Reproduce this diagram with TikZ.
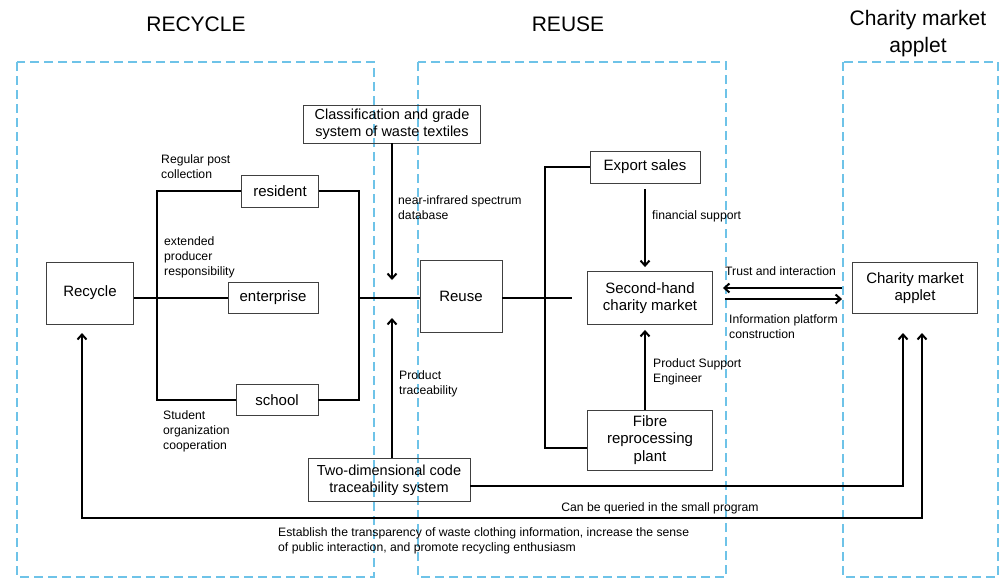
\documentclass[tikz,border=0pt]{standalone}
\usepackage{fontspec}
\setmainfont{Liberation Sans}
\usepackage{tikz}
\usetikzlibrary{arrows.meta}
\definecolor{zoneblue}{RGB}{110,195,232}

\begin{document}
\begin{tikzpicture}[x=1pt,y=-1pt,
	zone/.style={draw=zoneblue, line width=1.8pt, dash pattern=on 9pt off 5pt},
	box/.style={draw=black!75, line width=0.9pt, align=center, inner sep=0pt, font=\fontsize{15}{17.5}\selectfont},
	lbl/.style={anchor=north west, align=left, inner sep=0pt, font=\fontsize{12.2}{15}\selectfont},
	title/.style={align=center, font=\fontsize{21}{27}\selectfont},
	link/.style={line width=2pt},
	flow/.style={line width=2pt, -{Straight Barb[length=5pt,width=9pt]}}]
\useasboundingbox (0,0) rectangle (1000,579);

\draw[zone] (17,62) rectangle (374,577);
\draw[zone] (418,62) rectangle (726,577);
\draw[zone] (843,62) rectangle (998,577);

\node[title] (trecycle) at (196,24) {RECYCLE};
\node[title] (treuse) at (568,24) {REUSE};
\node[title] (tapplet) at (918,34) {Charity market\\applet};

\node[box, minimum width=87, minimum height=62] (recycle) at (90,293) {Recycle};
\node[box, minimum width=77, minimum height=32] (resident) at (280,191) {resident};
\node[box, minimum width=90, minimum height=31] (enterprise) at (273,298) {enterprise};
\node[box, minimum width=82, minimum height=31] (school) at (277,400) {school};
\node[box, minimum width=177, minimum height=38, font=\fontsize{14.5}{17}\selectfont] (grade) at (392,124) {Classification and grade\\system of waste textiles};
\node[box, minimum width=82, minimum height=72] (reuse) at (461,296) {Reuse};
\node[box, minimum width=162, minimum height=43, font=\fontsize{14.5}{17}\selectfont] (qrcode) at (389,480) {Two-dimensional code\\traceability system};
\node[box, minimum width=110, minimum height=32] (export) at (645,167) {Export sales};
\node[box, minimum width=125, minimum height=53] (market) at (650,298) {Second-hand\\charity market};
\node[box, minimum width=125, minimum height=60] (fibre) at (650,440) {Fibre\\reprocessing\\plant};
\node[box, minimum width=125, minimum height=51] (applet) at (915,288) {Charity market\\applet};

\coordinate (jl) at (157,298);
\coordinate (jr) at (359,298);
\coordinate (sp) at (545,298);
\coordinate (rm) at (572,298);
\coordinate (nirtip) at (392,280);
\coordinate (tracetip) at (392,318);
\coordinate (qtip) at (903,333);
\coordinate (ltip) at (82,333);
\coordinate (rtip) at (922,333);
\coordinate (loopbase) at (500,518);

\draw[link] (recycle.east |- jl) -- (enterprise.west);
\draw[link] (resident.west) -| (jl) |- (school.west);
\draw[link] (resident.east) -| (jr) |- (school.east);
\draw[link] (jr) -- (jr -| reuse.west);
\draw[flow] (grade) -- (nirtip);
\draw[flow] (qrcode.north -| tracetip) -- (tracetip);

\draw[link] (reuse.east |- rm) -- (rm);
\draw[link] (export.west) -| (sp) |- ([yshift=-8pt]fibre.west);
\draw[flow, shorten <=6pt, shorten >=4pt] (export.south) -- (export.south |- market.north);
\draw[flow, shorten >=5pt] (fibre.north -| export.south) -- (export.south |- market.south);
\draw[flow, shorten <=10pt, shorten >=10pt] (applet.west) -- (applet.west -| market.east);
\draw[flow, shorten <=12pt, shorten >=10pt] ([yshift=-11pt]applet.west -| market.east) -- ([yshift=-11pt]applet.west);

\draw[flow] ([yshift=-6pt]qrcode.east) -| (qtip);
\draw[link, {Straight Barb[length=5pt,width=9pt]}-{Straight Barb[length=5pt,width=9pt]}] (ltip) |- (loopbase) -| (rtip);

\node[lbl] (lpost) at (161,154) {Regular post\\collection};
\node[lbl] (lepr) at (164,236) {extended\\producer\\responsibility};
\node[lbl] (lstudent) at (163,410) {Student\\organization\\cooperation};
\node[lbl] (lnir) at (398,195) {near-infrared spectrum\\database};
\node[lbl] (ltrace) at (399,370) {Product\\traceability};
\node[lbl] (lfin) at (652,210) {financial support};
\node[lbl] (lpse) at (653,358) {Product Support\\Engineer};
\node[lbl] (ltrust) at (725,266) {Trust and interaction};
\node[lbl] (linfo) at (729,314) {Information platform\\construction};
\node[lbl, anchor=north] (lquery) at (660,502) {Can be queried in the small program};
\node[lbl] (lestab) at (278,527) {Establish the transparency of waste clothing information, increase the sense\\of public interaction, and promote recycling enthusiasm};
\end{tikzpicture}
\end{document}
